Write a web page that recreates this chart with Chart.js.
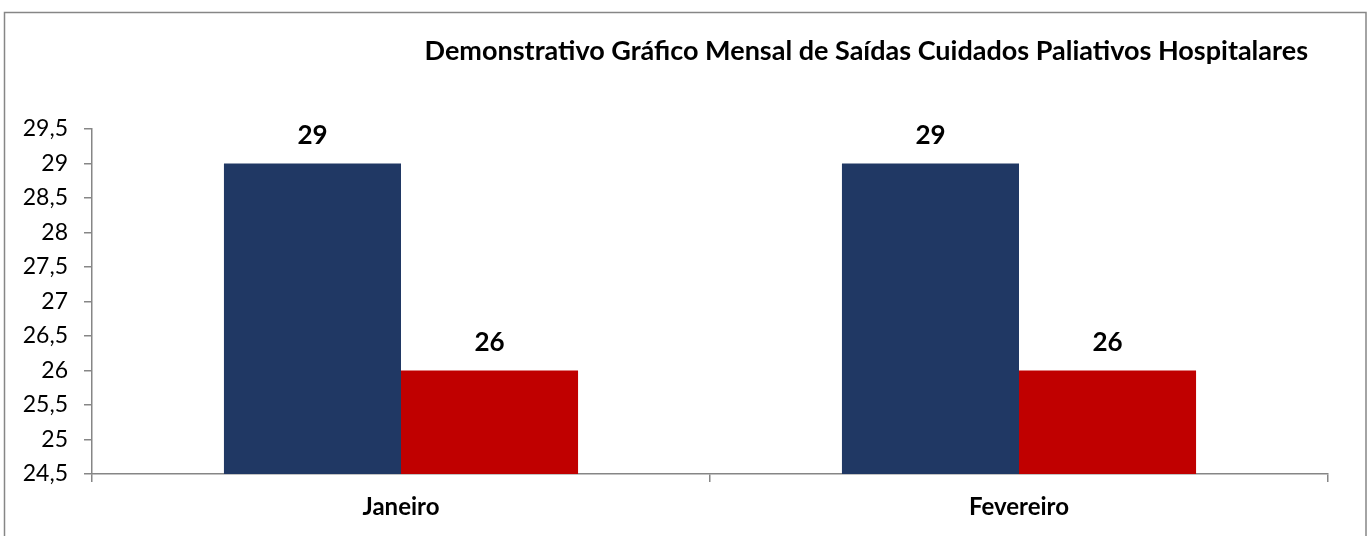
<!DOCTYPE html>
<html>
<head>
<meta charset="utf-8">
<script src="https://cdn.jsdelivr.net/npm/chart.js@4.4.0/dist/chart.umd.min.js"></script>
<style>
  html, body { margin: 0; padding: 0; background: #fff; }
  #wrap { width: 1370px; height: 536px; position: relative; }
</style>
</head>
<body>
<div id="wrap"><canvas id="grafico" width="1370" height="536"></canvas></div>
<script>
// dados do grafico
var titulo = "Demonstrativo Gráfico Mensal de Saídas Cuidados Paliativos Hospitalares";
var meses = ["Janeiro", "Fevereiro"];
var serieAzul = [29, 29];
var serieVermelha = [26, 26];
var yMin = 24.5, yMax = 29.5, yPasso = 0.5;

var fonte = "Lato, 'Open Sans', sans-serif";
var cinza = "#868686";

// moldura e titulo (desenhados a mao)
var molduraPlugin = {
  id: "moldura",
  afterDraw: function (chart) {
    var ctx = chart.ctx;
    ctx.save();
    ctx.strokeStyle = cinza;
    ctx.lineWidth = 1.5;
    ctx.beginPath();
    ctx.moveTo(4.5, 536);
    ctx.lineTo(4.5, 12.5);
    ctx.lineTo(1366, 12.5);
    ctx.lineTo(1366, 536);
    ctx.stroke();

    ctx.fillStyle = "#000";
    ctx.font = "bold 27px " + fonte;
    ctx.textAlign = "right";
    ctx.textBaseline = "middle";
    ctx.fillText(titulo, 1308, 51);
    ctx.restore();
  }
};

// rotulos de valor acima das barras
var rotulosPlugin = {
  id: "rotulos",
  afterDatasetsDraw: function (chart) {
    var ctx = chart.ctx;
    ctx.save();
    ctx.fillStyle = "#000";
    ctx.font = "bold 26px " + fonte;
    ctx.textAlign = "center";
    ctx.textBaseline = "middle";
    chart.data.datasets.forEach(function (ds, i) {
      chart.getDatasetMeta(i).data.forEach(function (bar, j) {
        ctx.fillText(String(ds.data[j]).replace(".", ","), bar.x, bar.y - 28);
      });
    });
    ctx.restore();
  }
};

new Chart(document.getElementById("grafico"), {
  type: "bar",
  data: {
    labels: meses,
    datasets: [
      { label: "Série 1", data: serieAzul, backgroundColor: "#203864", borderWidth: 0 },
      { label: "Série 2", data: serieVermelha, backgroundColor: "#C00000", borderWidth: 0 }
    ]
  },
  options: {
    responsive: false,
    animation: false,
    devicePixelRatio: 1,
    layout: { padding: { top: 129, right: 42, left: 0, bottom: 0 } },
    plugins: {
      legend: { display: false },
      title: { display: false },
      tooltip: { enabled: false }
    },
    datasets: {
      bar: { categoryPercentage: 0.573, barPercentage: 1.0 }
    },
    scales: {
      x: {
        offset: true,
        grid: { offset: true, drawOnChartArea: false, tickLength: 8, color: cinza, lineWidth: 1.5 },
        border: { color: cinza, width: 1.5 },
        ticks: { color: "#000", padding: 11, font: { family: fonte, size: 24, weight: "bold" } },
        afterFit: function (s) { s.height = 62; }
      },
      y: {
        min: yMin,
        max: yMax,
        grid: { drawOnChartArea: false, tickLength: 8, color: cinza, lineWidth: 1.5 },
        border: { color: cinza, width: 1.5 },
        ticks: {
          stepSize: yPasso,
          color: "#000",
          padding: 16,
          font: { family: fonte, size: 23 },
          callback: function (v) { return String(v).replace(".", ","); }
        },
        afterFit: function (s) { s.width = 92; }
      }
    }
  },
  plugins: [molduraPlugin, rotulosPlugin]
});
</script>
</body>
</html>
